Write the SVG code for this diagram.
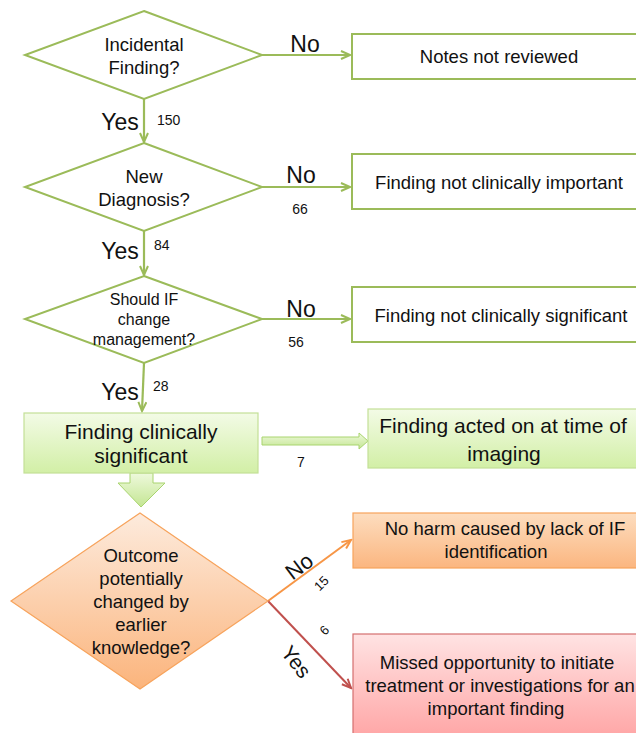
<svg xmlns="http://www.w3.org/2000/svg" width="636" height="733" viewBox="0 0 636 733">
<style>
text{font-family:"Liberation Sans",Arial,sans-serif;fill:#111;}
.dg{fill:#fff;stroke:#9BBB59;stroke-width:2;}
.bx{fill:#fff;stroke:#9BBB59;stroke-width:2;}
.gl{stroke:#9BBB59;stroke-width:2.2;fill:none;}
.t18{font-size:18.5px;text-anchor:middle;}
.t16{font-size:16px;text-anchor:middle;}
.t21{font-size:21px;text-anchor:middle;}
.lab{font-size:23px;}
.num{font-size:14px;}
</style>
<defs>
<marker id="ag" markerWidth="12" markerHeight="12" refX="10" refY="5" orient="auto" markerUnits="userSpaceOnUse">
<path d="M1,1 L10,5 L1,9" fill="none" stroke="#9BBB59" stroke-width="2"/>
</marker>
<marker id="ao" markerWidth="12" markerHeight="12" refX="10" refY="5" orient="auto" markerUnits="userSpaceOnUse">
<path d="M1,1 L10,5 L1,9" fill="none" stroke="#F79646" stroke-width="2"/>
</marker>
<marker id="ar" markerWidth="12" markerHeight="12" refX="10" refY="5" orient="auto" markerUnits="userSpaceOnUse">
<path d="M1,1 L10,5 L1,9" fill="none" stroke="#C0504D" stroke-width="2"/>
</marker>
<linearGradient id="gg" x1="0" y1="0" x2="0" y2="1">
<stop offset="0" stop-color="#F3FBE6"/><stop offset="1" stop-color="#D2EFA6"/>
</linearGradient>
<linearGradient id="ga" x1="0" y1="0" x2="0" y2="1">
<stop offset="0" stop-color="#EEF9DC"/><stop offset="1" stop-color="#C4E693"/>
</linearGradient>
<linearGradient id="go" x1="0" y1="0" x2="0" y2="1">
<stop offset="0" stop-color="#FDEBDD"/><stop offset="1" stop-color="#FBB47C"/>
</linearGradient>
<linearGradient id="gh" x1="0" y1="0" x2="0" y2="1">
<stop offset="0" stop-color="#FDDDBF"/><stop offset="1" stop-color="#FBB680"/>
</linearGradient>
<linearGradient id="gp" x1="0" y1="0" x2="0" y2="1">
<stop offset="0" stop-color="#FFE3E3"/><stop offset="1" stop-color="#FF9C9C"/>
</linearGradient>
</defs>

<g id="connectors">
<line class="gl" x1="262" y1="55" x2="350" y2="55" marker-end="url(#ag)"/>
<line class="gl" x1="144" y1="99" x2="144" y2="142" marker-end="url(#ag)"/>
<line class="gl" x1="262" y1="187" x2="350" y2="187" marker-end="url(#ag)"/>
<line class="gl" x1="144" y1="231" x2="144" y2="275" marker-end="url(#ag)"/>
<line class="gl" x1="262" y1="319" x2="350" y2="319" marker-end="url(#ag)"/>
<line class="gl" x1="144" y1="363" x2="142" y2="411" marker-end="url(#ag)"/>
<polygon points="262,437 359,437 359,433 368,441 359,449 359,445 262,445" fill="url(#ga)" stroke="#A9D46F" stroke-width="1"/>
<polygon points="130,473 153,473 153,483 165,483 141,507 118,483 130,483" fill="url(#ga)" stroke="#A9D46F" stroke-width="1"/>
<line x1="268" y1="601" x2="351" y2="540" stroke="#F79646" stroke-width="2" marker-end="url(#ao)"/>
<line x1="268" y1="601" x2="351" y2="688" stroke="#C0504D" stroke-width="2" marker-end="url(#ar)"/>
<text class="lab" x="305" y="52" text-anchor="middle">No</text>
<text class="lab" x="120" y="130" text-anchor="middle">Yes</text>
<text class="num" x="157" y="125">150</text>
<text class="lab" x="301" y="183" text-anchor="middle">No</text>
<text class="num" x="300" y="214" text-anchor="middle">66</text>
<text class="lab" x="120" y="259" text-anchor="middle">Yes</text>
<text class="num" x="154" y="250">84</text>
<text class="lab" x="301" y="317" text-anchor="middle">No</text>
<text class="num" x="296" y="347" text-anchor="middle">56</text>
<text class="lab" x="120" y="400" text-anchor="middle">Yes</text>
<text class="num" x="153" y="391">28</text>
<text class="num" x="301" y="467" text-anchor="middle">7</text>
<text font-size="22" text-anchor="middle" transform="translate(299,566) rotate(-37)" y="8">No</text>
<text font-size="13" text-anchor="middle" transform="translate(321,583) rotate(-45)" y="5">15</text>
<text font-size="13" text-anchor="middle" transform="translate(324,630) rotate(-45)" y="5">6</text>
<text font-size="21" text-anchor="middle" transform="translate(296,662) rotate(52)" y="7">Yes</text>
</g>

<g id="d1">
<polygon class="dg" points="144,11 262,55 144,99 25,55"/>
<text class="t18" x="144" y="51">Incidental</text>
<text class="t18" x="144" y="74">Finding?</text>
</g>
<g id="b1">
<rect class="bx" x="352" y="34" width="300" height="45"/>
<text class="t18" x="499" y="63">Notes not reviewed</text>
</g>
<g id="d2">
<polygon class="dg" points="144,143 262,187 144,231 25,187"/>
<text class="t18" x="144" y="183">New</text>
<text class="t18" x="144" y="206">Diagnosis?</text>
</g>
<g id="b2">
<rect class="bx" x="352" y="154" width="300" height="55"/>
<text class="t18" x="499" y="189">Finding not clinically important</text>
</g>
<g id="d3">
<polygon class="dg" points="144,276 262,319 144,363 25,319"/>
<text class="t16" x="144" y="305">Should IF</text>
<text class="t16" x="144" y="325">change</text>
<text class="t16" x="144" y="345">management?</text>
</g>
<g id="b3">
<rect class="bx" x="352" y="287" width="300" height="55"/>
<text class="t18" x="501" y="322">Finding not clinically significant</text>
</g>
<g id="b4">
<rect x="24" y="413" width="234" height="60" fill="url(#gg)" stroke="#C3E097" stroke-width="1.2"/>
<text class="t21" x="141" y="439">Finding clinically</text>
<text class="t21" x="141" y="463">significant</text>
</g>
<g id="b5">
<rect x="368" y="409" width="290" height="59" fill="url(#gg)" stroke="#C3E097" stroke-width="1.2"/>
<text class="t21" x="503" y="433">Finding acted on at time of</text>
<text class="t21" x="504" y="461">imaging</text>
</g>
<g id="d4">
<polygon points="140,513 268,601 140,689 11,601" fill="url(#go)" stroke="#F7A35C" stroke-width="1.2"/>
<text class="t18" x="141" y="562">Outcome</text>
<text class="t18" x="141" y="585">potentially</text>
<text class="t18" x="141" y="608">changed by</text>
<text class="t18" x="141" y="631">earlier</text>
<text class="t18" x="141" y="654">knowledge?</text>
</g>
<g id="b6">
<rect x="353" y="513" width="300" height="55" fill="url(#gh)" stroke="#F7A35C" stroke-width="1.2"/>
<text class="t18" x="505" y="535">No harm caused by lack of IF</text>
<text class="t18" x="496" y="558">identification</text>
</g>
<g id="b7">
<rect x="353" y="634" width="300" height="120" fill="url(#gp)" stroke="#D46F6F" stroke-width="1.2"/>
<text class="t18" x="497" y="669">Missed opportunity to initiate</text>
<text class="t18" x="500" y="692">treatment or investigations for an</text>
<text class="t18" x="496" y="715">important finding</text>
</g>
</svg>
